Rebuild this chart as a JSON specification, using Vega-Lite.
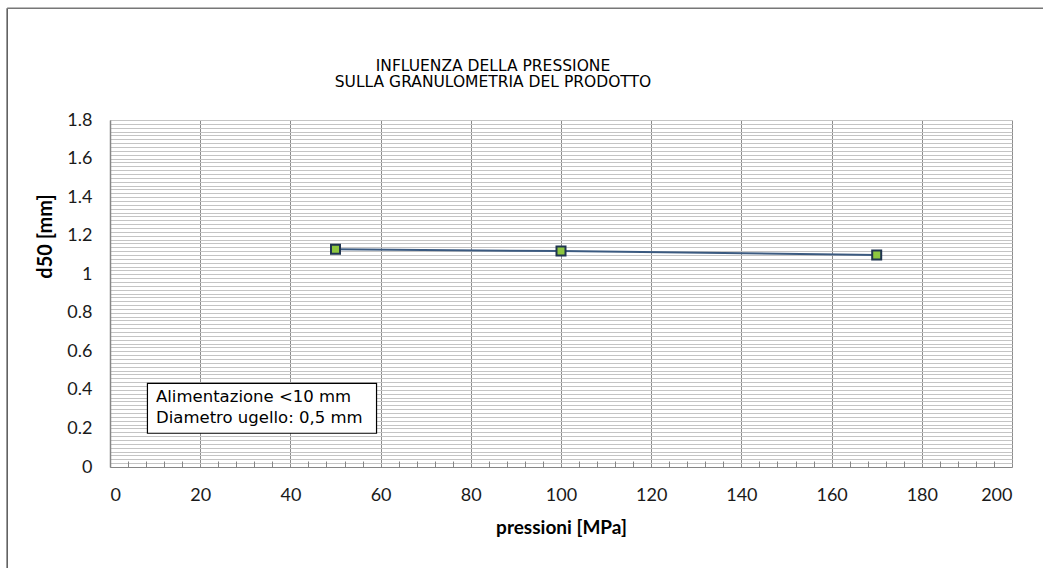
{
  "$schema": "https://vega.github.io/schema/vega-lite/v6.json",
  "autosize": {"type": "none"},
  "width": 902,
  "height": 347,
  "padding": {"left": 110, "top": 120, "right": 31, "bottom": 101},
  "background": "#ffffff",
  "config": {"view": {"stroke": null}, "axis": {"labelFont": "Lato", "titleFont": "Lato"}},
  "title": {
    "text": ["INFLUENZA DELLA PRESSIONE", "SULLA GRANULOMETRIA DEL PRODOTTO"],
    "font": "DejaVu Sans",
    "fontSize": 15.5,
    "fontWeight": "normal",
    "color": "#000000",
    "lineHeight": 16,
    "anchor": "middle",
    "frame": "group",
    "dx": -68,
    "offset": -83
  },
  "datasets": {
    "points": [
      {"pressione": 50, "d50": 1.13},
      {"pressione": 100, "d50": 1.12},
      {"pressione": 170, "d50": 1.10}
    ],
    "note": [
      {"riga": "Alimentazione <10 mm", "xpos": 10.2, "ypos": 0.363},
      {"riga": "Diametro ugello: 0,5 mm", "xpos": 10.2, "ypos": 0.256}
    ],
    "one": [{}]
  },
  "layer": [
    {
      "data": {"name": "one"},
      "mark": {"type": "rect", "fill": "#ffffff", "stroke": "#000000", "strokeWidth": 1.2},
      "encoding": {
        "x": {"datum": 8.3, "type": "quantitative", "scale": {"domain": [0, 200], "nice": false}, "axis": null},
        "x2": {"datum": 59.1},
        "y": {"datum": 0.175, "type": "quantitative", "scale": {"domain": [0, 1.8], "nice": false}, "axis": null},
        "y2": {"datum": 0.434}
      }
    },
    {
      "data": {"name": "note"},
      "mark": {"type": "text", "align": "left", "baseline": "middle", "font": "DejaVu Sans", "fontSize": 16.5, "color": "#000000"},
      "encoding": {
        "x": {"field": "xpos", "type": "quantitative", "scale": {"domain": [0, 200], "nice": false}, "axis": null},
        "y": {"field": "ypos", "type": "quantitative", "scale": {"domain": [0, 1.8], "nice": false}, "axis": null},
        "text": {"field": "riga"}
      }
    },
    {
      "data": {"name": "points"},
      "mark": {"type": "line", "color": "#3b5a80", "strokeWidth": 2},
      "encoding": {
        "x": {
          "field": "pressione", "type": "quantitative",
          "scale": {"domain": [0, 200], "nice": false, "zero": false},
          "axis": {
            "orient": "bottom",
            "values": [0, 20, 40, 60, 80, 100, 120, 140, 160, 180, 200],
            "title": "pressioni [MPa]",
            "titleFontSize": 19, "titleFontWeight": "bold", "titleColor": "#000000",
            "titleY": 66, "titleBaseline": "alphabetic",
            "labelFontSize": 18, "labelColor": "#1a1a1a", "labelPadding": 19,
            "ticks": false, "tickSize": 0,
            "domain": true, "domainColor": "#868686", "domainWidth": 1,
            "grid": true, "gridColor": "#8c8c8c", "gridWidth": 1, "gridOpacity": 1
          }
        },
        "y": {
          "field": "d50", "type": "quantitative",
          "scale": {"domain": [0, 1.8], "nice": false, "zero": false},
          "axis": {
            "orient": "left",
            "values": [0, 0.2, 0.4, 0.6, 0.8, 1, 1.2, 1.4, 1.6, 1.8],
            "format": ".1~f",
            "title": "d50 [mm]",
            "titleFontSize": 20, "titleFontWeight": "bold", "titleColor": "#000000",
            "titleX": -65, "titleY": 116, "titleAngle": -90, "titleBaseline": "middle", "titleAlign": "center", "titleAnchor": null,
            "labelFontSize": 18, "labelColor": "#1a1a1a", "labelPadding": 18,
            "ticks": false, "tickSize": 0,
            "domain": true, "domainColor": "#868686", "domainWidth": 1.5,
            "grid": false
          }
        }
      }
    },
    {
      "data": {"name": "points"},
      "mark": {"type": "point", "shape": "square", "filled": true, "fill": "#8dc63f", "stroke": "#1f3450", "strokeWidth": 2, "size": 81, "opacity": 1},
      "encoding": {
        "x": {
          "field": "pressione", "type": "quantitative",
          "scale": {"domain": [0, 200], "nice": false, "zero": false},
          "axis": {
            "orient": "bottom",
            "values": [4, 8, 12, 16, 24, 28, 32, 36, 44, 48, 52, 56, 64, 68, 72, 76, 84, 88, 92, 96, 104, 108, 112, 116, 124, 128, 132, 136, 144, 148, 152, 156, 164, 168, 172, 176, 184, 188, 192, 196],
            "title": null, "labels": false, "domain": false, "grid": false,
            "ticks": true, "tickSize": -6, "tickColor": "#868686", "tickWidth": 1
          }
        },
        "y": {
          "field": "d50", "type": "quantitative",
          "scale": {"domain": [0, 1.8], "nice": false, "zero": false},
          "axis": {
            "orient": "left",
            "tickCount": 90,
            "title": null, "labels": false, "domain": false, "ticks": false,
            "grid": true, "gridColor": "#c4c4c4", "gridWidth": 1, "gridOpacity": 1
          }
        }
      }
    },
    {
      "data": {"name": "one"},
      "mark": {"type": "rule", "color": "#555555", "strokeWidth": 1.5},
      "encoding": {
        "x": {"datum": -22.8, "type": "quantitative", "scale": {"domain": [0, 200], "nice": false}, "axis": null},
        "y": {"datum": 2.38, "type": "quantitative", "scale": {"domain": [0, 1.8], "nice": false}, "axis": null},
        "y2": {"datum": -0.53}
      }
    },
    {
      "data": {"name": "one"},
      "mark": {"type": "rule", "color": "#777777", "strokeWidth": 1.5},
      "encoding": {
        "x": {"datum": -22.8, "type": "quantitative", "scale": {"domain": [0, 200], "nice": false}, "axis": null},
        "x2": {"datum": 207},
        "y": {"datum": 2.38, "type": "quantitative", "scale": {"domain": [0, 1.8], "nice": false}, "axis": null}
      }
    }
  ],
  "resolve": {"axis": {"x": "independent", "y": "independent"}}
}
